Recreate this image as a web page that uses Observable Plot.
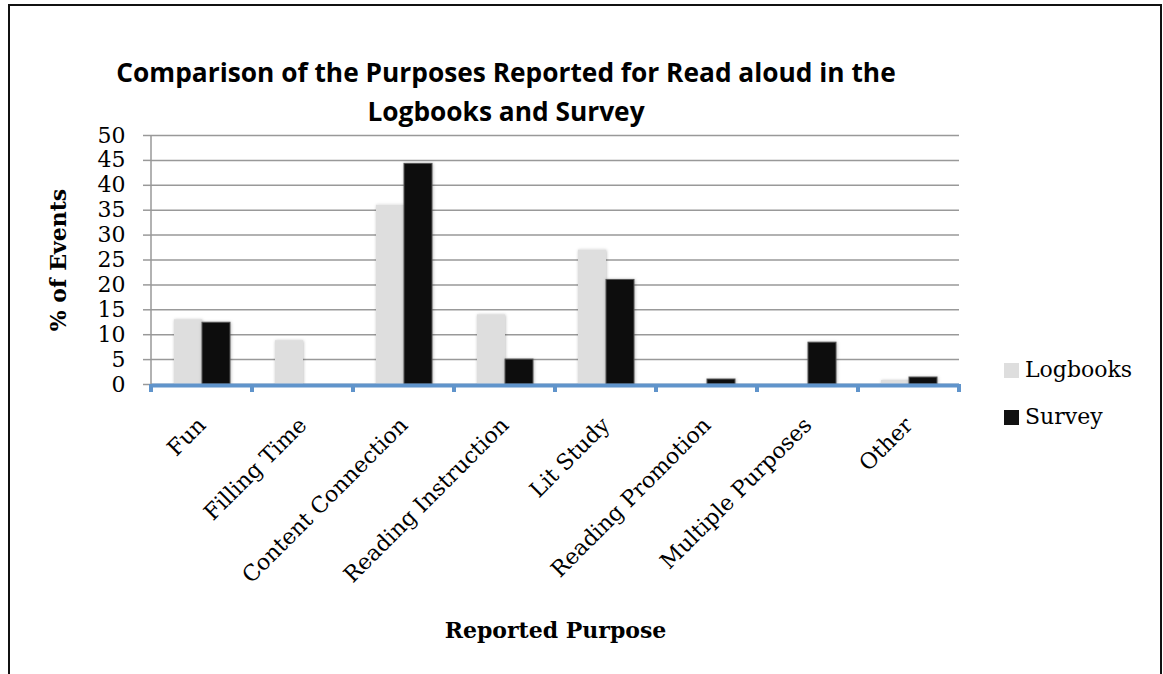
<!DOCTYPE html>
<html>
<head>
<meta charset="utf-8">
<script src="https://cdn.jsdelivr.net/npm/d3@7"></script>
<script src="https://cdn.jsdelivr.net/npm/@observablehq/plot@0.6"></script>
<style>
  body { margin: 0; background: #fff; }
  #chart { position: relative; width: 1163px; height: 674px; overflow: hidden; background: #fff; }
  #chart svg { position: absolute; left: 0; top: 0; }
  .title { position: absolute; left: 0; width: 1012px; text-align: center;
           font-family: "Open Sans", sans-serif; font-weight: 700; font-size: 26.3px;
           line-height: 39px; color: #000; white-space: nowrap; }
  .legend-item { position: absolute; left: 1004px; font-family: "DejaVu Serif", serif;
                 font-size: 22px; line-height: 26px; color: #000; white-space: nowrap; }
  .legend-item .sw { display: inline-block; width: 15px; height: 15px; margin-right: 6px; vertical-align: -1px; }
  .border { position: absolute; left: 8px; top: 4px; width: 1154px; height: 700px;
            box-sizing: border-box; border: 2px solid #111; pointer-events: none; }
</style>
</head>
<body>
<div id="chart"></div>
<script>
// Reported purposes for read-aloud events (% of events)
const purposes = ["Fun", "Filling Time", "Content Connection", "Reading Instruction",
                  "Lit Study", "Reading Promotion", "Multiple Purposes", "Other"];
const logbooks = [13, 8.8, 36, 14, 27, 0, 0, 0.8];
const survey   = [12.4, 0, 44.3, 5, 21, 1, 8.4, 1.4];

const seriesNames  = ["Logbooks", "Survey"];
const seriesColors = ["#dedede", "#111111"];
const yTicks = [0, 5, 10, 15, 20, 25, 30, 35, 40, 45, 50];

const titleLines = ["Comparison of the Purposes Reported for Read aloud in the", "Logbooks and Survey"];
const yLabel = "% of Events";
const xLabel = "Reported Purpose";

const rows = purposes.flatMap((p, i) => [
  {purpose: p, series: seriesNames[0], value: logbooks[i]},
  {purpose: p, series: seriesNames[1], value: survey[i]}
]);

const serif = "DejaVu Serif, serif";

const plot = Plot.plot({
  width: 1163,
  height: 674,
  marginTop: 135,
  marginBottom: 290,
  marginLeft: 148,
  marginRight: 201,
  style: {fontFamily: serif, fontSize: "22px", color: "#000", background: "transparent", overflow: "visible"},
  fx: {domain: purposes, padding: 0},
  x: {domain: seriesNames, paddingInner: 0, paddingOuter: 0.75, axis: null},
  y: {domain: [0, 50]},
  color: {domain: seriesNames, range: seriesColors},
  marks: [
    Plot.gridY(yTicks, {stroke: "#999", strokeOpacity: 1, strokeWidth: 1.5}),
    Plot.axisY(yTicks, {
      tickSize: 8, tickPadding: 18, stroke: "#999", strokeOpacity: 1, strokeWidth: 1.5, fill: "#000",
      fontSize: 22, label: yLabel, labelAnchor: "center", labelOffset: 101, labelArrow: "none"
    }),
    Plot.barY(rows.filter(d => d.series === seriesNames[0]), {
      fx: "purpose", x: "series", y: "value", fill: "series"
    }),
    Plot.barY(rows.filter(d => d.series === seriesNames[1]), {
      fx: "purpose", x: "series", y: "value", fill: "series", stroke: "#555", strokeWidth: 1
    }),
    Plot.ruleY([0], {stroke: "#6094cb", strokeWidth: 4, dy: 1}),
    Plot.axisFx({
      anchor: "bottom", tickSize: 0, tickRotate: -45, tickPadding: 37, fontSize: 22,
      label: xLabel, labelAnchor: "center", labelOffset: 253, labelArrow: "none"
    })
  ]
});

const chart = document.getElementById("chart");
chart.appendChild(plot);

// Bold axis titles
const svg = d3.select(plot);
svg.selectAll('[aria-label="y-axis label"] text, [aria-label="fx-axis label"] text')
  .attr("font-weight", "bold");

// Soft shadow under the bars
const defs = svg.insert("defs", ":first-child");
defs.append("filter").attr("id", "bar-shadow").attr("x", "-20%").attr("y", "-20%")
  .attr("width", "140%").attr("height", "140%")
  .append("feDropShadow").attr("dx", 0.5).attr("dy", 0.5).attr("stdDeviation", 1.6)
  .attr("flood-color", "#000").attr("flood-opacity", 0.28);
svg.selectAll('[aria-label="bar"]').attr("filter", "url(#bar-shadow)");

// Vertical axis line and category boundary ticks, from the plot's scales
const fxScale = plot.scale("fx");
const yScale = plot.scale("y");
const edges = purposes.map(p => fxScale.apply(p)).concat([fxScale.apply(purposes[purposes.length - 1]) + fxScale.bandwidth]);
const y0 = yScale.apply(0), yTop = yScale.apply(50);
const deco = svg.append("g");
deco.append("line").attr("x1", edges[0]).attr("x2", edges[0]).attr("y1", yTop).attr("y2", y0 + 1)
  .attr("stroke", "#999").attr("stroke-width", 1.5);
deco.selectAll("line.tick").data(edges).join("line").attr("class", "tick")
  .attr("x1", d => d).attr("x2", d => d).attr("y1", y0).attr("y2", y0 + 8)
  .attr("stroke", "#6094cb").attr("stroke-width", 4);

// Title
titleLines.forEach((t, i) => {
  const div = document.createElement("div");
  div.className = "title";
  div.style.top = (53 + i * 39) + "px";
  div.textContent = t;
  chart.appendChild(div);
});

// Legend
seriesNames.forEach((name, i) => {
  const item = document.createElement("div");
  item.className = "legend-item";
  item.style.top = (357 + i * 47) + "px";
  const sw = document.createElement("span");
  sw.className = "sw";
  sw.style.background = seriesColors[i];
  item.appendChild(sw);
  item.appendChild(document.createTextNode(name));
  chart.appendChild(item);
});

const border = document.createElement("div");
border.className = "border";
chart.appendChild(border);
</script>
</body>
</html>
